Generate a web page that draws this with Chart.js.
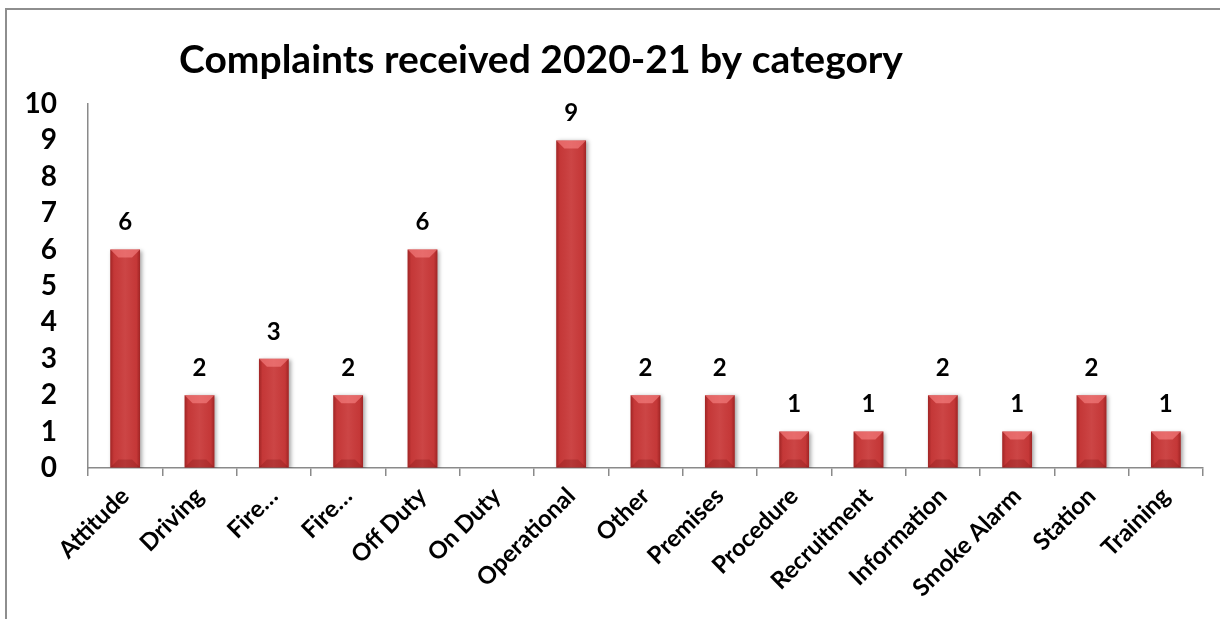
<!DOCTYPE html>
<html>
<head>
<meta charset="utf-8">
<script src="https://cdn.jsdelivr.net/npm/chart.js@4"></script>
<style>
  body { margin: 0; background: #fff; }
  #wrap { position: relative; width: 1220px; height: 619px; }
  #frame { position: absolute; left: 5px; top: 8px; right: -2px; bottom: -2px; border-top: 2px solid #8e8e8e; border-left: 2px solid #8e8e8e; }
  canvas { position: absolute; left: 0; top: 0; }
</style>
</head>
<body>
<div id="wrap">
  <div id="frame"></div>
  <canvas id="chart" width="1220" height="619"></canvas>
</div>
<script>
// chart data
const categories = ['Attitude', 'Driving', 'Fire…', 'Fire…', 'Off Duty', 'On Duty', 'Operational',
  'Other', 'Premises', 'Procedure', 'Recruitment', 'Information', 'Smoke Alarm', 'Station', 'Training'];
const complaints = [6, 2, 3, 2, 6, 0, 9, 2, 2, 1, 1, 2, 1, 2, 1];
const yTicks = [0, 1, 2, 3, 4, 5, 6, 7, 8, 9, 10];
const chartTitle = 'Complaints received 2020-21 by category';

const FONT = 'Lato, "Open Sans", sans-serif';

// title drawn off-centre like the original
const titlePlugin = {
  id: 'offTitle',
  afterDraw(chart) {
    const ctx = chart.ctx;
    ctx.save();
    ctx.font = 'bold 39px ' + FONT;
    ctx.fillStyle = '#000';
    ctx.textAlign = 'center';
    ctx.textBaseline = 'middle';
    ctx.fillText(chartTitle, 541, 60);
    ctx.restore();
  }
};

// bevel look + value labels on bars
const barStyle = {
  id: 'barStyle',
  beforeDatasetsDraw(chart) {
    chart.ctx.save();
    chart.ctx.shadowColor = 'rgba(0,0,0,0.35)';
    chart.ctx.shadowBlur = 4;
    chart.ctx.shadowOffsetX = 2;
    chart.ctx.shadowOffsetY = 1;
  },
  afterDatasetsDraw(chart) {
    const ctx = chart.ctx;
    ctx.restore();
    const meta = chart.getDatasetMeta(0);
    meta.data.forEach((bar, i) => {
      const v = complaints[i];
      if (!v) return;
      const { x, y, base, width } = bar.getProps(['x', 'y', 'base', 'width'], true);
      const l = x - width / 2, r = x + width / 2;
      const h = base - y;
      const b = Math.min(8, h / 2);
      ctx.save();
      // side shading
      let g = ctx.createLinearGradient(l, 0, r, 0);
      g.addColorStop(0, 'rgba(110,10,10,0.45)');
      g.addColorStop(0.12, 'rgba(110,10,10,0.05)');
      g.addColorStop(0.5, 'rgba(255,255,255,0.06)');
      g.addColorStop(0.88, 'rgba(110,10,10,0.05)');
      g.addColorStop(1, 'rgba(110,10,10,0.45)');
      ctx.fillStyle = g;
      ctx.fillRect(l, y, width, h);
      // top bevel
      ctx.beginPath();
      ctx.moveTo(l, y); ctx.lineTo(r, y); ctx.lineTo(r - b, y + b); ctx.lineTo(l + b, y + b); ctx.closePath();
      ctx.fillStyle = 'rgba(255,140,140,0.55)';
      ctx.fill();
      // bottom bevel
      ctx.beginPath();
      ctx.moveTo(l, base); ctx.lineTo(r, base); ctx.lineTo(r - b, base - b); ctx.lineTo(l + b, base - b); ctx.closePath();
      ctx.fillStyle = 'rgba(90,0,0,0.2)';
      ctx.fill();
      // value label
      ctx.font = 'bold 24px ' + FONT;
      ctx.fillStyle = '#000';
      ctx.textAlign = 'center';
      ctx.textBaseline = 'middle';
      ctx.fillText(String(v), x, y - 27);
      ctx.restore();
    });
  }
};

new Chart(document.getElementById('chart'), {
  type: 'bar',
  data: {
    labels: categories,
    datasets: [{
      data: complaints,
      backgroundColor: '#c93a3a',
      borderWidth: 0,
      barPercentage: 0.8,
      categoryPercentage: 0.5
    }]
  },
  options: {
    responsive: false,
    animation: false,
    layout: { padding: { left: 0, top: 104, right: 17, bottom: 0 } },
    plugins: {
      legend: { display: false },
      title: { display: false },
      tooltip: { enabled: false }
    },
    scales: {
      x: {
        offset: true,
        grid: { offset: true, drawOnChartArea: false, color: '#8a8a8a', lineWidth: 1.5, tickLength: 8 },
        border: { color: '#8a8a8a', width: 1.5 },
        ticks: {
          color: '#000',
          font: { family: FONT, size: 24, weight: 'bold' },
          maxRotation: 45, minRotation: 45,
          autoSkip: false,
          padding: 6
        },
        afterFit(scale) {
          scale.height = 619 - 468;
          scale.paddingLeft = 0;
          scale.paddingRight = 0;
        }
      },
      y: {
        min: 0,
        max: 10,
        afterBuildTicks(scale) {
          scale.ticks = yTicks.map(v => ({ value: v }));
        },
        grid: { drawOnChartArea: false, drawTicks: false },
        border: { color: '#8a8a8a', width: 1.5 },
        ticks: {
          color: '#000',
          font: { family: FONT, size: 28, weight: 'bold' },
          autoSkip: false,
          padding: 31
        },
        afterFit(scale) {
          scale.width = 88;
          scale.paddingTop = 0;
          scale.paddingBottom = 0;
        }
      }
    }
  },
  plugins: [titlePlugin, barStyle]
});
</script>
</body>
</html>
